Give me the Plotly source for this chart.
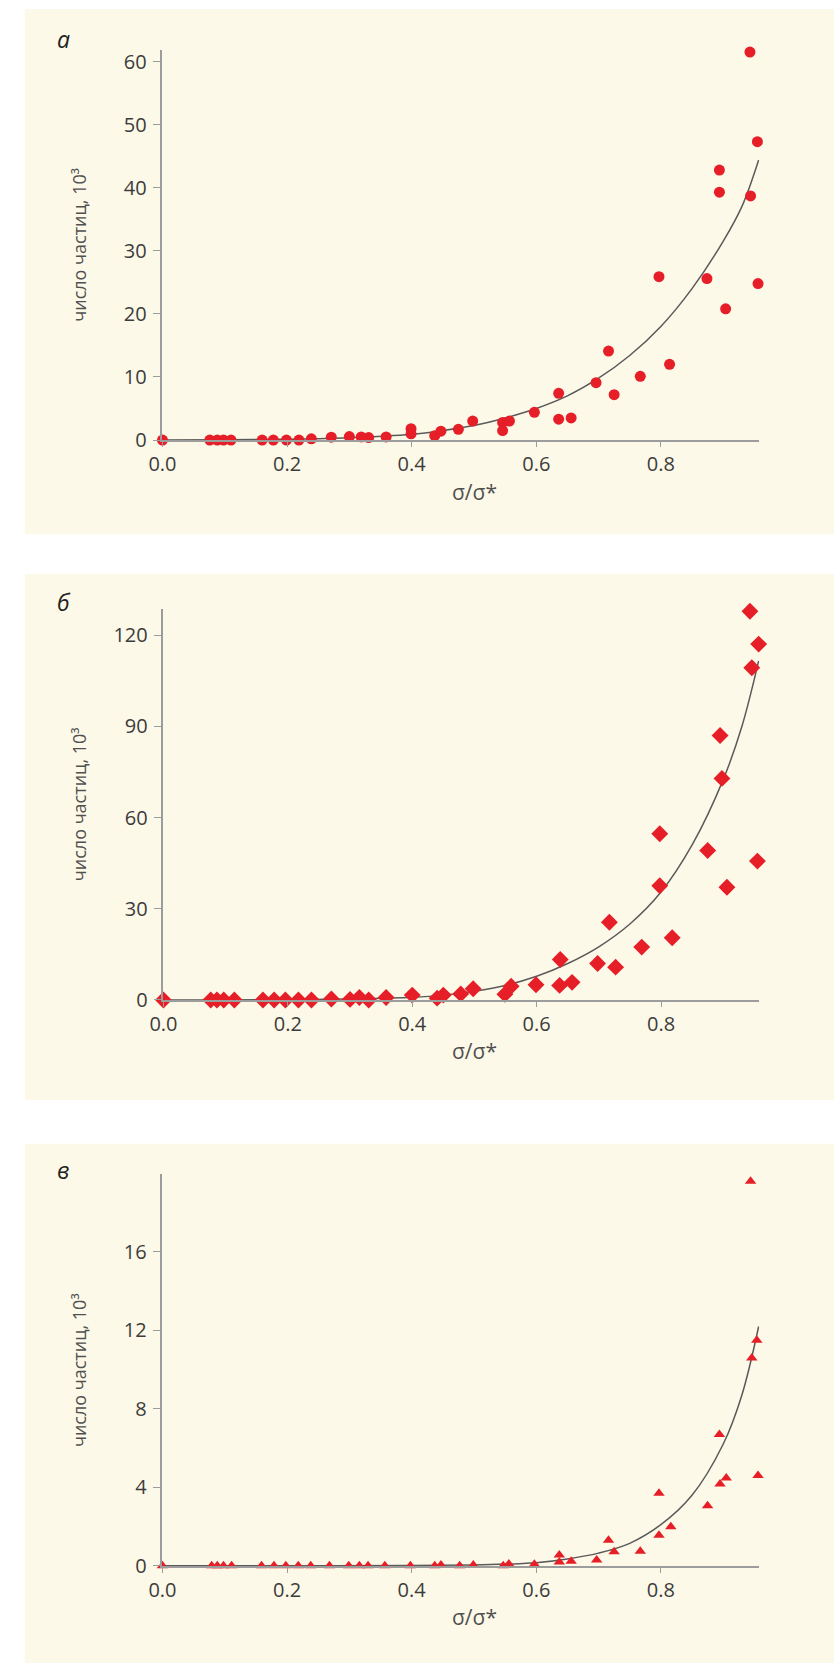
import plotly.graph_objects as go

W, H = 834, 1676

# ---------------- data: panel а (circles) ----------------
a_x = [0.0, 0.076, 0.088, 0.098, 0.110, 0.160, 0.178, 0.199, 0.219, 0.239, 0.271, 0.300,
       0.319, 0.331, 0.359, 0.399, 0.399, 0.437, 0.447, 0.475, 0.498, 0.546, 0.546, 0.557,
       0.597, 0.636, 0.636, 0.656, 0.696, 0.716, 0.725, 0.767, 0.797, 0.814, 0.874, 0.894,
       0.894, 0.904, 0.943, 0.944, 0.955, 0.956]
a_y = [0.0, 0.0, 0.0, 0.0, 0.0, 0.0, 0.0, 0.0, 0.0, 0.2, 0.45, 0.55,
       0.5, 0.4, 0.5, 1.8, 1.0, 0.7, 1.4, 1.7, 3.0, 2.8, 1.5, 3.0,
       4.4, 7.4, 3.3, 3.5, 9.1, 14.1, 7.2, 10.1, 25.9, 12.0, 25.6, 42.8,
       39.3, 20.8, 61.5, 38.7, 47.3, 24.8]
a_fit_x = [0.0, 0.1, 0.2, 0.3, 0.4, 0.45, 0.5, 0.55, 0.6, 0.65, 0.7, 0.75, 0.8, 0.85, 0.9, 0.93, 0.957]
a_fit_y = [0.0, 0.03, 0.12, 0.35, 0.9, 1.5, 2.3, 3.5, 5.0, 7.0, 9.8, 13.4, 18.0, 24.0, 31.5, 37.0, 44.4]

# ---------------- data: panel б (diamonds) ----------------
b_x = [0.0, 0.076, 0.086, 0.097, 0.114, 0.160, 0.178, 0.196, 0.217, 0.238, 0.270, 0.300,
       0.315, 0.330, 0.358, 0.400, 0.440, 0.450, 0.478, 0.498, 0.549, 0.559, 0.599, 0.638,
       0.637, 0.657, 0.698, 0.717, 0.727, 0.769, 0.798, 0.798, 0.818, 0.875, 0.895, 0.898,
       0.906, 0.943, 0.946, 0.957, 0.955]
b_y = [0.0, 0.0, 0.0, 0.0, 0.0, 0.0, 0.0, 0.0, 0.0, 0.0, 0.3, 0.2,
       0.8, 0.0, 0.8, 1.6, 0.6, 1.6, 2.0, 3.7, 1.9, 4.5, 5.0, 13.3,
       4.8, 5.8, 12.0, 25.6, 10.8, 17.4, 54.7, 37.6, 20.5, 49.2, 87.0, 72.9,
       37.1, 127.9, 109.3, 117.1, 45.7]
b_fit_x = [0.0, 0.1, 0.2, 0.3, 0.4, 0.45, 0.5, 0.55, 0.6, 0.65, 0.7, 0.75, 0.8, 0.85, 0.9, 0.93, 0.957]
b_fit_y = [0.0, 0.02, 0.1, 0.35, 0.9, 1.6, 2.9, 4.8, 7.8, 12.0, 17.5, 25.0, 35.5, 51.0, 72.5, 90.0, 111.6]

# ---------------- data: panel в (triangles) ----------------
c_x = [0.0, 0.079, 0.088, 0.098, 0.111, 0.159, 0.179, 0.198, 0.218, 0.238, 0.268, 0.299,
       0.316, 0.330, 0.357, 0.398, 0.437, 0.447, 0.477, 0.499, 0.547, 0.556, 0.597, 0.637,
       0.637, 0.656, 0.697, 0.716, 0.725, 0.767, 0.797, 0.797, 0.816, 0.875, 0.894, 0.895,
       0.905, 0.944, 0.946, 0.954, 0.956]
c_y = [0.0, 0.0, 0.0, 0.0, 0.0, 0.0, 0.0, 0.0, 0.0, 0.0, 0.0, 0.0,
       0.0, 0.0, 0.0, 0.0, 0.0, 0.05, 0.0, 0.05, 0.0, 0.1, 0.08, 0.55,
       0.2, 0.23, 0.3, 1.3, 0.72, 0.75, 3.7, 1.56, 2.0, 3.06, 6.7, 4.17,
       4.48, 19.6, 10.6, 11.5, 4.6]
c_fit_x = [0.0, 0.2, 0.4, 0.5, 0.55, 0.6, 0.65, 0.7, 0.75, 0.8, 0.85, 0.9, 0.93, 0.957]
c_fit_y = [0.0, 0.0, 0.02, 0.05, 0.09, 0.16, 0.35, 0.65, 1.15, 2.1, 3.6, 6.2, 8.7, 12.2]

# tick settings
a_yticks = [0, 10, 20, 30, 40, 50, 60]
b_yticks = [0, 30, 60, 90, 120]
c_yticks = [0, 4, 8, 12, 16]
x_ticks = [0.0, 0.2, 0.4, 0.6, 0.8]

labels = ["а", "б", "в"]
y_title = "число частиц, 10³"
x_title = "σ/σ*"

RED = "#e61e28"
CURVE = "#5a5a5a"
AXIS = "#9c9c9c"
TXT = "#3c3c3c"
BG = "#fdf9e8"
FONT = "Open Sans"

# layout geometry in pixels (top-based)
panels = [
    dict(bg=(11, 7, 834, 537), plot=(151, 48, 758, 442), yr=[0, 61.9], yt=a_yticks,
         lab=(42, 37), xt_y=494, sym="circle", msize=11,
         px=a_x, py=a_y, fx=a_fit_x, fy=a_fit_y),
    dict(bg=(11, 577, 834, 1108), plot=(152, 612, 758, 1007), yr=[0, 128.8], yt=b_yticks,
         lab=(42, 605), xt_y=1058, sym="diamond", msize=13,
         px=b_x, py=b_y, fx=b_fit_x, fy=b_fit_y),
    dict(bg=(11, 1152, 834, 1676), plot=(151, 1183, 758, 1578), yr=[0, 19.95], yt=c_yticks,
         lab=(42, 1179), xt_y=1630, sym="triangle-up", msize=10,
         px=c_x, py=c_y, fx=c_fit_x, fy=c_fit_y),
]

fig = go.Figure()
shapes = []
annotations = []
layout_axes = {}

for i, p in enumerate(panels):
    n = "" if i == 0 else str(i + 1)
    xa, ya = "x" + n, "y" + n
    x0, y0, x1, y1 = p["plot"]
    fig.add_trace(go.Scatter(x=p["fx"], y=p["fy"], mode="lines", xaxis=xa, yaxis=ya,
                             line=dict(color=CURVE, width=1.5, shape="spline", smoothing=1.0),
                             showlegend=False, hoverinfo="skip"))
    fig.add_trace(go.Scatter(x=p["px"], y=p["py"], mode="markers", xaxis=xa, yaxis=ya,
                             marker=dict(symbol=p["sym"], size=p["msize"], color=RED,
                                         line=dict(width=0)),
                             cliponaxis=False, showlegend=False))
    layout_axes["xaxis" + n] = dict(
        domain=[x0 / W, x1 / W], range=[0, 0.958], anchor=ya,
        tickvals=x_ticks, tickformat=".1f", showgrid=False, zeroline=False,
        showline=True, linecolor=AXIS, linewidth=1.5,
        ticks="outside", ticklen=5, tickcolor=AXIS, tickwidth=1,
        tickfont=dict(family=FONT, size=20, color=TXT), ticklabelstandoff=0,
        fixedrange=True)
    layout_axes["yaxis" + n] = dict(
        domain=[1 - y1 / H, 1 - y0 / H], range=p["yr"], anchor=xa,
        tickvals=p["yt"], showgrid=False, zeroline=False,
        showline=True, linecolor=AXIS, linewidth=1.5,
        ticks="outside", ticklen=8, tickcolor=AXIS, tickwidth=1,
        tickfont=dict(family=FONT, size=20, color=TXT), ticklabelstandoff=2,
        fixedrange=True)
    bx0, by0, bx1, by1 = p["bg"]
    shapes.append(dict(type="rect", xref="paper", yref="paper", layer="below",
                       x0=bx0 / W, x1=bx1 / W, y0=1 - by1 / H, y1=1 - by0 / H,
                       fillcolor=BG, line=dict(width=0)))
    annotations.append(dict(text="<i>" + labels[i] + "</i>", xref="paper", yref="paper",
                            x=p["lab"][0] / W, y=1 - p["lab"][1] / H,
                            xanchor="left", yanchor="middle", showarrow=False,
                            font=dict(family=FONT, size=23, color="#222")))
    annotations.append(dict(text=y_title, xref="paper", yref="paper",
                            x=66 / W, y=1 - (y0 + y1) / 2 / H, textangle=-90,
                            xanchor="center", yanchor="middle", showarrow=False,
                            font=dict(family=FONT, size=18, color="#505050")))
    annotations.append(dict(text=x_title, xref="paper", yref="paper",
                            x=468 / W, y=1 - p["xt_y"] / H,
                            xanchor="center", yanchor="middle", showarrow=False,
                            font=dict(family=FONT, size=21, color="#505050")))

fig.update_layout(
    width=W, height=H, autosize=False,
    margin=dict(l=0, r=0, t=0, b=0),
    paper_bgcolor="white", plot_bgcolor="rgba(0,0,0,0)",
    shapes=shapes, annotations=annotations, showlegend=False,
    **layout_axes)

fig.write_html("out.html", config=dict(displayModeBar=False),
               post_script="document.body.style.margin='0';document.body.style.overflow='hidden';")
